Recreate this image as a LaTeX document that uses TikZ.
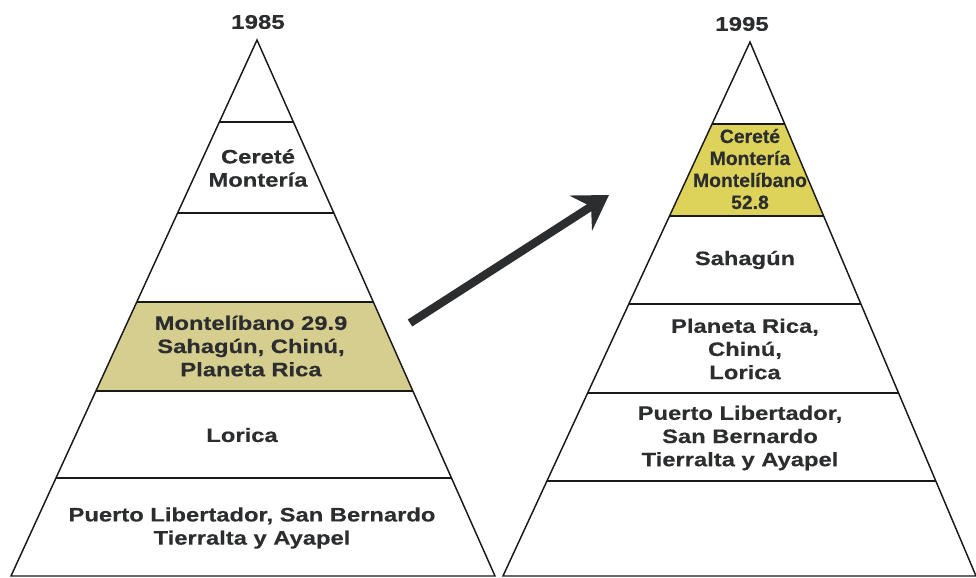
\documentclass[tikz,border=0pt]{standalone}
\usepackage{fontspec}
\setmainfont{Liberation Sans}
\newfontfamily\wfont{Liberation Sans}[FakeStretch=1.22, BoldFeatures={FakeBold=0.4}]
\newfontfamily\nfont{Liberation Sans}[BoldFeatures={FakeBold=0.3}]
\usetikzlibrary{arrows.meta}
\definecolor{ink}{HTML}{2B2D2F}
\definecolor{khaki}{HTML}{D6CE8E}
\definecolor{yel}{HTML}{DDD35A}
\begin{document}
\begin{tikzpicture}[x=0.75pt,y=-0.75pt,
  edge/.style={draw=black!90, line width=1.1pt, line join=miter},
  lbl/.style={text=ink, align=center, inner sep=0pt, font=\wfont\bfseries\fontsize{14.6}{17.4}\selectfont},
  yearlbl/.style={text=ink, align=center, inner sep=0pt, font=\wfont\bfseries\fontsize{14.8}{17.4}\selectfont},
  ylbl/.style={text=ink, align=center, inner sep=0pt, font=\nfont\bfseries\fontsize{14.5}{16.5}\selectfont},
  bigarrow/.style={draw=ink, line width=6.2pt, -{Stealth[length=25pt, width=31pt, inset=9pt]}}
]
\useasboundingbox (0,0) rectangle (976,578);

% highlighted bands
\fill[khaki] (136.8,302) -- (373.3,302) -- (412.9,391) -- (95.9,391) -- cycle;
\fill[yel] (712.1,124) -- (784.7,124) -- (823.6,216) -- (669.5,216) -- cycle;

% left pyramid
\draw[edge] (257,40) -- (495,576) -- (11,576) -- cycle;
\draw[edge] (219.4,122) -- (293.4,122);
\draw[edge] (177.6,213) -- (333.8,213);
\draw[edge] (136.8,302) -- (373.3,302);
\draw[edge] (95.9,391) -- (412.9,391);
\draw[edge] (56.0,478) -- (451.5,478);

% right pyramid
\draw[edge] (750,42) -- (976,576) -- (503,576) -- cycle;
\draw[edge] (712.1,124) -- (784.7,124);
\draw[edge] (669.5,216) -- (823.6,216);
\draw[edge] (628.8,304) -- (860.9,304);
\draw[edge] (587.6,393) -- (898.6,393);
\draw[edge] (546.9,481) -- (935.8,481);

% labels left
\node[yearlbl] (y85) at (258,22) {1985};
\node[lbl] (l2) at (258,168) {Cereté\\Montería};
\node[lbl] (l4) at (251,346) {Montelíbano 29.9\\Sahagún, Chinú,\\Planeta Rica};
\node[lbl] (l5) at (242,435) {Lorica};
\node[lbl] (l6) at (252,528) {Puerto Libertador, San Bernardo\\Tierralta y Ayapel};

% labels right
\node[yearlbl] (y95) at (742,24) {1995};
\node[ylbl] (r2) at (750,169) {Cereté\\Montería\\Montelíbano\\52.8};
\node[lbl] (r3) at (745,260) {Sahagún};
\node[lbl] (r4) at (745,349) {Planeta Rica,\\Chinú,\\Lorica};
\node[lbl] (r5) at (740,438) {Puerto Libertador,\\San Bernardo\\Tierralta y Ayapel};

% arrow
\coordinate (atail) at (410,323);
\coordinate (ahead) at (609,195);
\draw[bigarrow] (atail) -- (ahead);
\end{tikzpicture}
\end{document}
